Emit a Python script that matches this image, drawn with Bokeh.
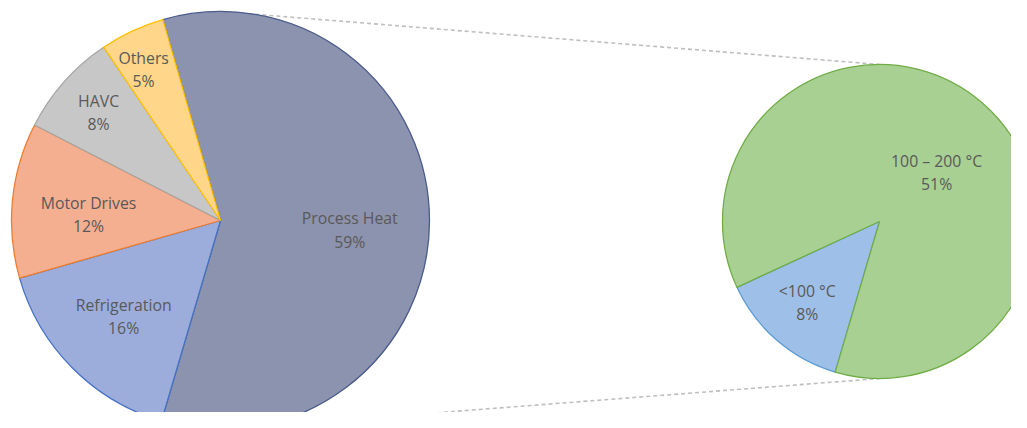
import numpy as np
from bokeh.plotting import figure
from bokeh.models import Range1d, ColumnDataSource
from bokeh.embed import file_html
from bokeh.resources import INLINE
from bokeh.core.properties import value

# ---- data ----
categories = ["Process Heat", "Refrigeration", "Motor Drives", "HAVC", "Others"]
shares = [59, 16, 12, 8, 5]
sub_categories = ["<100 °C", "100 – 200 °C"]
sub_shares = [8, 51]

# ---- styles / layout ----
main_fill = ["#8C93AE", "#9CADDC", "#F4AF90", "#C7C7C7", "#FFD68A"]
main_line = ["#4A5B8C", "#4472C4", "#ED7D31", "#A5A5A5", "#FFC000"]
sub_fill = ["#9EC0E8", "#A9D093"]
sub_line = ["#5B9BD5", "#70AD47"]
main_label_r = [0.62, 0.653, 0.632, 0.78, 0.81]
main_label_nudge = [4, 0, -3, 0, -2]
sub_label_r = [0.69, 0.48]
sub_label_nudge = [1, 8.5]

W, H = 1011, 412
MCX, MCY, MR = 220.0, 208.0, 209.0
SCX, SCY, SR = 879.0, 207.0, 157.0
START = -16.0  # degrees clockwise from 12 o'clock

p = figure(width=W, height=H, output_backend="svg", toolbar_location=None,
           x_range=Range1d(0, W), y_range=Range1d(428 - H, 428),
           min_border=0, background_fill_color="white", border_fill_color="white")
p.axis.visible = False
p.grid.visible = False
p.outline_line_color = None


def wedge_data(vals, names, start, cx, cy, r, rfac, nudge, fills, lines):
    vals = np.asarray(vals, dtype=float)
    tot = vals.sum()
    cum = np.concatenate([[0.0], np.cumsum(vals)])
    t1 = start + 360.0 * cum[:-1] / tot
    t2 = start + 360.0 * cum[1:] / tot
    tm = (t1 + t2) / 2.0 + np.asarray(nudge)
    lr = np.asarray(rfac) * r
    return dict(
        x=[cx] * len(vals), y=[cy] * len(vals),
        start=np.radians(90.0 - t2), end=np.radians(90.0 - t1),
        fill=fills, line=lines,
        lx=cx + lr * np.sin(np.radians(tm)), ly=cy + lr * np.cos(np.radians(tm)),
        label=[f"{n}\n{int(v)}%" for n, v in zip(names, vals)],
    )


# connector dashed lines (under the pies)
p.line([MCX, SCX], [MCY + MR, SCY + SR], line_color="#BFBFBF", line_width=1.6, line_dash="4 3")
p.line([MCX, SCX], [MCY - MR, SCY - SR], line_color="#BFBFBF", line_width=1.6, line_dash="4 3")

main = ColumnDataSource(wedge_data(shares, categories, START, MCX, MCY, MR,
                                   main_label_r, main_label_nudge, main_fill, main_line))
sub_start = START + 360.0 * shares[0] / sum(shares)
sub = ColumnDataSource(wedge_data(sub_shares, sub_categories, sub_start, SCX, SCY, SR,
                                  sub_label_r, sub_label_nudge, sub_fill, sub_line))

for src in (main, sub):
    p.wedge(x="x", y="y", radius=MR if src is main else SR, start_angle="start", end_angle="end",
            fill_color="fill", line_color="line", line_width=1.3, source=src)
    p.text(x="lx", y="ly", text="label", source=src, text_align="center",
           text_baseline="middle", text_font=value("Open Sans"), text_font_size="15.8px",
           text_color="#595959", text_line_height=1.05)

open("out.html", "w").write(file_html(p, INLINE))
